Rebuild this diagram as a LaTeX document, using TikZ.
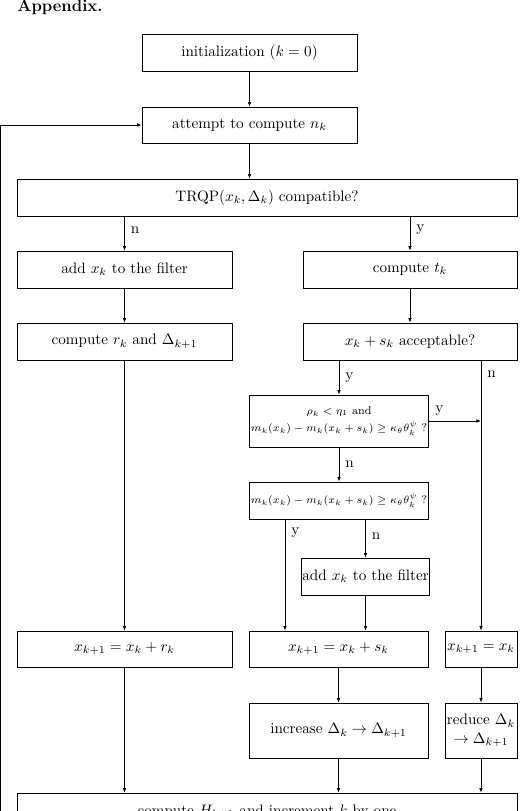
\documentclass[tikz,border=0pt]{standalone}
\usepackage{amsmath,amssymb}
\usetikzlibrary{arrows.meta,calc}

\tikzset{
  box/.style={draw, line width=0.5pt, minimum height=24.4pt, inner sep=2pt, align=center},
  small/.style={font=\fontsize{7.5}{9}\selectfont, inner sep=1pt},
  flow/.style={->, line width=0.5pt},
  lab/.style={right, inner sep=4pt}
}

\begin{document}
\begin{tikzpicture}[x=0.66pt, y=-0.66pt, >={Latex[length=3pt,width=2.4pt]}]
\useasboundingbox (0,0) rectangle (529,811);
\node[anchor=base west, font=\fontsize{11}{13}\selectfont\bfseries] (head) at (12,12) {Appendix.};
% top
\node[box, minimum width=141.9pt] (init) at (249.5,52.5) {initialization ($k=0$)};
\node[box, minimum width=141.9pt, minimum height=23.8pt] (attempt) at (249.5,125) {attempt to compute $n_k$};
\node[box, minimum width=330pt] (trqp) at (267,197.5) {TRQP$(x_k,\Delta_k)$ compatible?};
% left branch
\node[box, minimum width=141.9pt] (addf) at (124.5,269.5) {add $x_k$ to the filter};
\node[box, minimum width=141.9pt] (comprk) at (124.5,341.5) {compute $r_k$ and $\Delta_{k+1}$};
\node[box, minimum width=141.9pt, minimum height=23.8pt] (xr) at (124.5,649) {$x_{k+1}=x_k+r_k$};
% right branch
\node[box, minimum width=141.2pt] (comptk) at (410,269.5) {compute $t_k$};
\node[box, minimum width=141.2pt] (accept) at (410,341.5) {$x_k+s_k$ acceptable?};
\node[box, small, minimum width=117.5pt, minimum height=34.3pt] (rho) at (339,421)
  {$\rho_k<\eta_1$ and\\[2.5pt] $m_k(x_k)-m_k(x_k+s_k)\geq\kappa_\theta\theta_k^\psi$ ?};
\node[box, small, minimum width=117.5pt] (armijo) at (339,500.5)
  {$m_k(x_k)-m_k(x_k+s_k)\geq\kappa_\theta\theta_k^\psi$ ?};
\node[box, minimum width=82.5pt, inner sep=0.5pt] (addf2) at (365.5,576.5) {add $x_k$ to the filter};
\node[box, minimum width=118.1pt, minimum height=23.8pt] (xs) at (338.5,649) {$x_{k+1}=x_k+s_k$};
\node[box, minimum width=47.5pt, minimum height=23.8pt, inner sep=0.5pt] (xx) at (481,649) {$x_{k+1}=x_k$};
\node[box, minimum width=118.1pt, minimum height=36.3pt] (incr) at (338.5,730.5) {increase $\Delta_k\to\Delta_{k+1}$};
\node[box, minimum width=47.5pt, minimum height=36.3pt, inner sep=0.5pt] (red) at (481,730.5) {reduce $\Delta_k$\\$\to\Delta_{k+1}$};
% bottom
\node[box, minimum width=330pt] (final) at (267,811.5) {compute $H_{k+1}$ and increment $k$ by one};

\draw[flow] (init) -- (attempt);
\draw[flow] (attempt) -- (attempt.south |- trqp.north);
\draw[flow] (trqp.south -| addf.north) -- node[lab, pos=0.4]{n} (addf);
\draw[flow] (trqp.south -| comptk.north) -- node[lab, pos=0.4]{y} (comptk);
\draw[flow] (addf) -- (comprk);
\draw[flow] (comptk) -- (accept);
\draw[flow] (accept.south -| rho.north) -- node[lab]{y} (rho);
\draw[flow] (accept.south -| xx.north) -- node[lab, pos=0.05]{n} (xx);
\draw[flow] (rho.east) -- node[above, pos=0.2]{y} (rho.east -| xx.north);
\draw[flow] (rho) -- node[lab]{n} (armijo);
\coordinate (ya) at ($(armijo.south west)!0.2!(armijo.south east)$);
\draw[flow] (ya) -- node[lab, pos=0.12]{y} (ya |- xs.north);
\draw[flow] (armijo.south -| addf2.north) -- node[lab, pos=0.45]{n} (addf2);
\draw[flow] (addf2) -- (addf2.south |- xs.north);
\draw[flow] (comprk) -- (xr);
\draw[flow] (xs) -- (incr);
\draw[flow] (xx) -- (red);
\draw[flow] (xr) -- (xr.south |- final.north);
\draw[flow] (incr) -- (incr.south |- final.north);
\draw[flow] (red) -- (red.south |- final.north);
\draw[flow] (final.west) -- ++(-16.5,0) |- (attempt.west);
\end{tikzpicture}
\end{document}
